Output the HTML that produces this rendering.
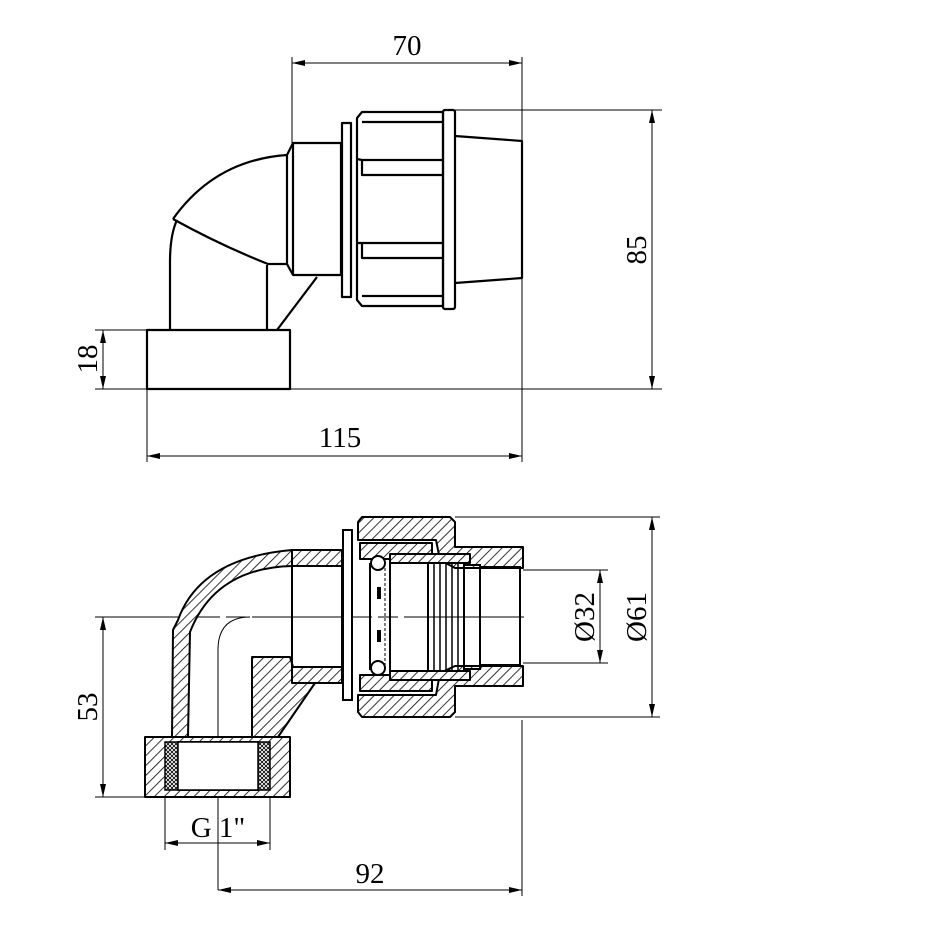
<!DOCTYPE html>
<html><head><style>
html,body{margin:0;padding:0;background:#fff;}
svg{display:block;}
text{font-family:"Liberation Serif",serif;font-size:29px;fill:#000;}
</style></head><body>
<svg width="930" height="930" viewBox="0 0 930 930" xmlns="http://www.w3.org/2000/svg">
<defs>
<pattern id="h" width="7" height="7" patternUnits="userSpaceOnUse" patternTransform="rotate(45)">
<rect width="7" height="7" fill="#fff"/><line x1="0" y1="0" x2="0" y2="7" stroke="#000" stroke-width="1.6"/>
</pattern>
<pattern id="x" width="4" height="4" patternUnits="userSpaceOnUse">
<rect width="4" height="4" fill="#fff"/><path d="M0 0L4 4M4 0L0 4" stroke="#000" stroke-width="0.8"/>
</pattern>
<marker id="a" markerWidth="14" markerHeight="8" refX="13" refY="4" orient="auto-start-reverse" markerUnits="userSpaceOnUse">
<path d="M0 1L13 4L0 7Z" fill="#000"/>
</marker>
</defs>

<!-- ===== TOP VIEW ===== -->
<g fill="none" stroke="#000" stroke-width="1">
<!-- dims -->
<line x1="292" y1="57" x2="292" y2="143"/>
<line x1="522" y1="57" x2="522" y2="462"/>
<line x1="292" y1="63" x2="522" y2="63" marker-start="url(#a)" marker-end="url(#a)"/>
<line x1="455" y1="110" x2="662" y2="110"/>
<line x1="290" y1="389" x2="662" y2="389"/>
<line x1="652" y1="110" x2="652" y2="389" marker-start="url(#a)" marker-end="url(#a)"/>
<line x1="95" y1="330" x2="147" y2="330"/>
<line x1="95" y1="389" x2="147" y2="389"/>
<line x1="103" y1="330" x2="103" y2="389" marker-start="url(#a)" marker-end="url(#a)"/>
<line x1="147" y1="389" x2="147" y2="462"/>
<line x1="147" y1="456" x2="522" y2="456" marker-start="url(#a)" marker-end="url(#a)"/>
</g>
<text x="407" y="55" text-anchor="middle">70</text>
<text x="340" y="447" text-anchor="middle">115</text>
<text transform="translate(646,250) rotate(-90)" text-anchor="middle">85</text>
<text transform="translate(97,359) rotate(-90)" text-anchor="middle">18</text>

<g fill="none" stroke="#000" stroke-width="2.2" stroke-linejoin="round">
<rect x="147" y="330" width="143" height="59"/>
<path d="M170 330 L170 262 Q170 235 177 220"/>
<path d="M173 219 Q215 160 287 155"/>
<path d="M173 219 Q220 245 268 264 L288 264"/>
<line x1="267" y1="265" x2="267" y2="330"/>
<line x1="317" y1="277" x2="277" y2="330"/>
<path d="M287 155 L293 143 L341 143 L341 275 L293 275 L287 264 Z"/>
<line x1="293" y1="143" x2="293" y2="275"/>
<rect x="342" y="123" width="9" height="174"/>
<path d="M357 118 L362 112 L443 112 L443 306 L362 306 L357 300 Z"/>
<line x1="362" y1="122" x2="443" y2="122"/>
<line x1="362" y1="296" x2="443" y2="296"/>
<path d="M357 159 L362 160 L443 160 M362 160 L362 175 L443 175"/>
<path d="M357 243 L362 243 L443 243 M362 243 L362 258 L443 258"/>
<rect x="443" y="110" width="12" height="199" rx="2"/>
<path d="M455 136 L522 141 L522 278 L455 283"/>
</g>

<!-- ===== BOTTOM VIEW ===== -->
<g fill="none" stroke="#000" stroke-width="1">
<line x1="100" y1="617" x2="530" y2="617" stroke-dasharray="120 6 20 6"/>
<path d="M218 890 L218 650 Q218 617 250 617"/>
<line x1="95" y1="617" x2="175" y2="617"/>
<line x1="103" y1="617" x2="103" y2="797" marker-start="url(#a)" marker-end="url(#a)"/>
<line x1="95" y1="797" x2="145" y2="797"/>
<line x1="165" y1="797" x2="165" y2="850"/>
<line x1="270" y1="797" x2="270" y2="850"/>
<line x1="165" y1="843" x2="270" y2="843" marker-start="url(#a)" marker-end="url(#a)"/>
<line x1="522" y1="720" x2="522" y2="896"/>
<line x1="218" y1="890" x2="522" y2="890" marker-start="url(#a)" marker-end="url(#a)"/>
<line x1="455" y1="517" x2="660" y2="517"/>
<line x1="455" y1="717" x2="660" y2="717"/>
<line x1="652" y1="517" x2="652" y2="717" marker-start="url(#a)" marker-end="url(#a)"/>
<line x1="523" y1="570" x2="608" y2="570"/>
<line x1="523" y1="663" x2="608" y2="663"/>
<line x1="600" y1="570" x2="600" y2="663" marker-start="url(#a)" marker-end="url(#a)"/>
</g>
<text x="218" y="837" text-anchor="middle">G 1"</text>
<text x="370" y="883" text-anchor="middle">92</text>
<text transform="translate(97,707) rotate(-90)" text-anchor="middle">53</text>
<text transform="translate(594,617) rotate(-90)" text-anchor="middle">Ø32</text>
<text transform="translate(646,617) rotate(-90)" text-anchor="middle">Ø61</text>

<g stroke="#000" stroke-width="2" stroke-linejoin="round" fill="url(#h)">
<!-- elbow outer wall -->
<path d="M292 550 L292 566 Q215 568 190 632 L188 737 L172 737 L173 630 L178 620 Q200 558 292 550 Z"/>
<!-- inner L wall -->
<path d="M252 657 L290 657 L294 670 L342 670 L342 683 L315 683 L278 737 L252 737 Z"/>
<!-- neck walls -->
<rect x="292" y="550" width="50" height="16"/>
<rect x="292" y="667" width="50" height="16"/>
<!-- nut top -->
<path d="M358 522 L362 517 L450 517 L455 522 L455 547 L523 547 L523 568 L455 568 L440 560 L436 540 L358 540 Z"/>
<path d="M358 695 L436 695 L440 673 L455 666 L523 666 L523 686 L455 686 L455 712 L450 717 L362 717 L358 712 Z"/>
<!-- inner sleeve -->
<rect x="360" y="543" width="72" height="16"/>
<rect x="360" y="675" width="72" height="16"/>
<rect x="390" y="554" width="80" height="9"/>
<rect x="390" y="671" width="80" height="9"/>
<!-- bottom nut -->
<path d="M145 737 L290 737 L290 797 L145 797 Z M178 742 L178 790 L258 790 L258 742 Z" fill-rule="evenodd"/>
</g>
<g stroke="#000" stroke-width="1.5">
<rect x="165" y="742" width="13" height="48" fill="url(#x)"/>
<rect x="258" y="742" width="12" height="48" fill="url(#x)"/>
<rect x="178" y="742" width="80" height="48" fill="#fff"/>
</g>
<g fill="none" stroke="#000" stroke-width="2">
<rect x="343" y="530" width="9" height="170" fill="#fff"/>
<rect x="292" y="566" width="50" height="101"/>
<line x1="370" y1="563" x2="370" y2="670"/>
<line x1="385" y1="563" x2="385" y2="670" stroke-width="1" stroke-dasharray="3 2"/>
<circle cx="378" cy="563" r="7" fill="#fff"/>
<circle cx="378" cy="668" r="7" fill="#fff"/>
<rect x="390" y="563" width="38" height="108"/>
<path d="M428 563 V671 M434 563 V671 M440 563 V671 M446 563 V671 M452 563 V671 M458 563 V671 M464 563 V671" stroke-width="1.5"/>
<rect x="464" y="565" width="16" height="104"/>
<rect x="480" y="567" width="40" height="98"/>
</g>
<g fill="#000">
<rect x="377" y="587" width="4" height="12"/>
<rect x="377" y="630" width="4" height="12"/>
</g>
</svg>
</body></html>
